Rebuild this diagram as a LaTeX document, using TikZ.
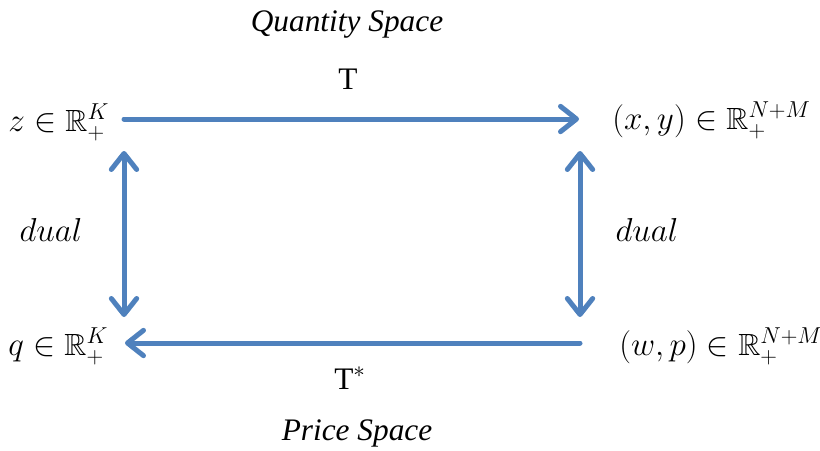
\documentclass[tikz,border=0pt]{standalone}
\usepackage{fontspec}
\setmainfont{Liberation Serif}
\usepackage{amssymb}
\usetikzlibrary{arrows.meta}
\definecolor{arrowblue}{HTML}{4F81BD}
\tikzset{
  barb/.style={-{Straight Barb[length=12pt,width=19pt,line cap=round,line join=round]}},
  conn/.style={draw=arrowblue, line width=3.75pt, line cap=round, barb},
  conn2/.style={draw=arrowblue, line width=3.75pt, line cap=round,
    {Straight Barb[length=12pt,width=19pt,line cap=round,line join=round]}-{Straight Barb[length=12pt,width=19pt,line cap=round,line join=round]}},
  mathlbl/.style={font=\fontsize{23}{28}\selectfont, inner sep=0pt},
  txtlbl/.style={font=\fontsize{23.5}{28}\selectfont, inner sep=0pt}
}
\begin{document}
\begin{tikzpicture}[x=0.75pt,y=-0.75pt]
\useasboundingbox (0,0) rectangle (820,450);
% labels
\node[txtlbl] (qs) at (347,25) {\itshape Quantity Space};
\node[txtlbl] (T) at (348,79) {T};
\node[txtlbl] (Ts) at (350,378) {T$^{*}$};
\node[txtlbl] (ps) at (357,433) {\itshape Price Space};
\node[mathlbl, anchor=west] (z) at (8,122) {$z \in \mathbb{R}^{K}_{+}$};
\node[mathlbl, anchor=west] (xy) at (612,120) {$(x,y) \in \mathbb{R}^{N+M}_{+}$};
\node[mathlbl, anchor=west] (q) at (8,346) {$q \in \mathbb{R}^{K}_{+}$};
\node[mathlbl, anchor=west] (wp) at (619,346) {$(w,p) \in \mathbb{R}^{N+M}_{+}$};
\node[mathlbl] (d1) at (51,230) {$dual$};
\node[mathlbl] (d2) at (647,230) {$dual$};
% arrow end points
\coordinate (zE) at (124,119);
\coordinate (xyW) at (579,119);
\coordinate (zS) at (124,151);
\coordinate (qN) at (124,317);
\coordinate (xyS) at (580,151);
\coordinate (wpN) at (580,317);
\coordinate (wpW) at (580,343);
\coordinate (qE) at (125,343);
% connectors
\draw[conn] (zE) -- (xyW);
\draw[conn] (wpW) -- (qE);
\draw[conn2] (zS) -- (qN);
\draw[conn2] (xyS) -- (wpN);
\end{tikzpicture}
\end{document}
